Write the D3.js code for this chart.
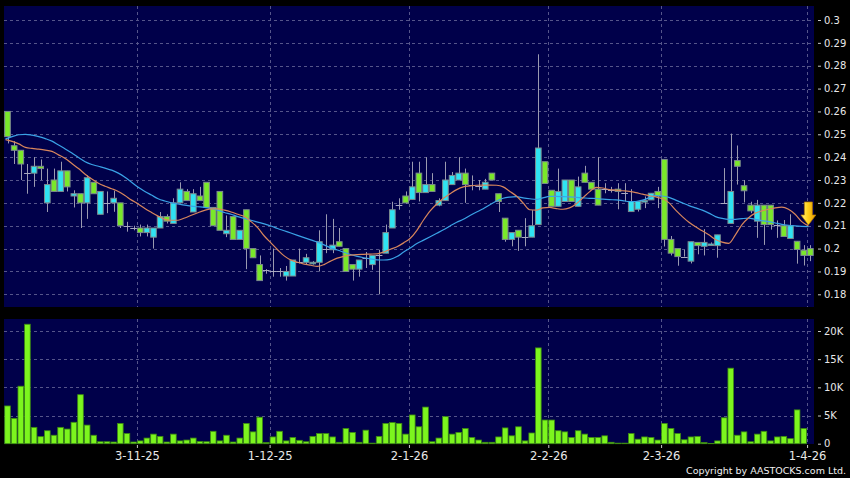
<!DOCTYPE html>
<html><head><meta charset="utf-8">
<script src="https://cdn.jsdelivr.net/npm/d3@7"></script>
<style>html,body{margin:0;padding:0;background:#000;}svg{display:block}</style>
</head><body>
<svg id="chart" width="850" height="478"></svg>
<script>
// ---- data (122 trading days) ----
const opens = [0.260,0.245,0.243,0.233,0.233,0.236,0.220,0.230,0.225,0.234,0.223,0.224,0.220,0.229,0.215,0.220,0.220,0.220,0.210,0.209,
0.209,0.207,0.205,0.209,0.214,0.211,0.220,0.225,0.216,0.223,0.229,0.218,0.225,0.2065,0.214,0.204,0.217,0.200,0.193,0.1905,
0.190,0.190,0.188,0.188,0.194,0.194,0.1935,0.194,0.200,0.1995,0.203,0.200,0.193,0.191,0.196,0.193,0.197,0.198,0.209,0.219,
0.223,0.2215,0.233,0.2245,0.228,0.219,0.221,0.228,0.230,0.233,0.228,0.2275,0.226,0.233,0.224,0.2133,0.204,0.208,0.205,0.205,
0.2105,0.238,0.2255,0.2185,0.2206,0.230,0.2185,0.233,0.229,0.226,0.226,0.2257,0.226,0.2245,0.2162,0.2172,0.2206,0.2213,0.225,0.239,
0.204,0.200,0.1965,0.1945,0.2027,0.201,0.2015,0.2013,0.220,0.211,0.2385,0.2275,0.219,0.212,0.219,0.219,0.2105,0.210,0.2044,0.2032,
0.1993,0.200];
const highs = [0.260,0.247,0.243,0.237,0.240,0.239,0.235,0.235,0.238,0.234,0.2255,0.224,0.232,0.229,0.225,0.225,0.2253,0.220,0.2117,0.210,
0.2105,0.2105,0.209,0.216,0.215,0.222,0.229,0.226,0.226,0.227,0.229,0.218,0.225,0.2145,0.214,0.208,0.217,0.200,0.197,0.191,
0.200,0.1915,0.1924,0.195,0.200,0.1977,0.1945,0.208,0.215,0.213,0.209,0.200,0.193,0.195,0.1985,0.197,0.1995,0.2105,0.2205,0.222,
0.225,0.238,0.238,0.240,0.233,0.222,0.238,0.2335,0.240,0.235,0.232,0.230,0.2305,0.233,0.224,0.2133,0.207,0.208,0.2133,0.2168,
0.285,0.238,0.2255,0.235,0.230,0.230,0.2315,0.2362,0.229,0.240,0.2286,0.227,0.2286,0.2286,0.226,0.2206,0.2228,0.2242,0.227,0.239,
0.2055,0.200,0.1995,0.203,0.2027,0.2085,0.2027,0.206,0.2352,0.2503,0.2451,0.230,0.2205,0.2213,0.219,0.219,0.2123,0.2125,0.215,0.2032,
0.2015,0.2015];
const lows = [0.246,0.237,0.230,0.224,0.227,0.230,0.216,0.225,0.225,0.225,0.218,0.209,0.213,0.224,0.215,0.2155,0.2161,0.209,0.2074,0.208,
0.2053,0.2053,0.200,0.209,0.211,0.211,0.220,0.221,0.216,0.221,0.218,0.210,0.208,0.205,0.204,0.204,0.191,0.196,0.186,0.189,
0.1877,0.1877,0.186,0.188,0.1935,0.193,0.193,0.190,0.198,0.198,0.201,0.190,0.186,0.1877,0.1915,0.1907,0.180,0.198,0.209,0.217,
0.2197,0.2213,0.2206,0.2245,0.225,0.2185,0.221,0.228,0.230,0.220,0.2255,0.2255,0.226,0.230,0.216,0.203,0.201,0.199,0.201,0.205,
0.2105,0.2285,0.2185,0.2185,0.2206,0.2206,0.2185,0.229,0.226,0.219,0.2242,0.2245,0.2172,0.2206,0.2162,0.2162,0.2177,0.2213,0.2177,0.2009,
0.197,0.1925,0.1965,0.1935,0.1975,0.197,0.2013,0.196,0.2198,0.211,0.228,0.2202,0.2155,0.2047,0.2016,0.2083,0.2047,0.2053,0.2044,0.1934,
0.1926,0.1945];
const closes = [0.249,0.243,0.237,0.233,0.236,0.235,0.228,0.225,0.234,0.227,0.224,0.220,0.231,0.224,0.225,0.220,0.222,0.210,0.210,0.209,
0.207,0.209,0.209,0.214,0.212,0.220,0.226,0.221,0.224,0.221,0.218,0.210,0.208,0.208,0.204,0.208,0.200,0.196,0.186,0.1905,
0.190,0.190,0.190,0.195,0.194,0.196,0.194,0.203,0.200,0.2015,0.201,0.190,0.191,0.195,0.196,0.197,0.197,0.207,0.217,0.219,
0.220,0.227,0.2245,0.228,0.225,0.221,0.230,0.232,0.233,0.228,0.228,0.2275,0.229,0.230,0.2206,0.204,0.207,0.205,0.205,0.210,
0.244,0.2285,0.2185,0.225,0.230,0.2206,0.227,0.229,0.226,0.219,0.226,0.2257,0.225,0.2245,0.2206,0.2206,0.221,0.2242,0.223,0.204,
0.198,0.1965,0.1965,0.203,0.2013,0.2027,0.202,0.206,0.220,0.225,0.236,0.2253,0.2165,0.219,0.2105,0.2105,0.2105,0.2053,0.210,0.1996,
0.197,0.197];
const volumes = [6700,4500,10200,21200,2900,1250,2300,1500,2900,2600,3800,8700,3300,1500,350,350,300,3600,1800,300,
500,1000,1700,1300,300,1700,500,650,1000,400,350,2200,500,1500,300,1000,3600,2100,4700,200,
1200,2200,500,1100,600,350,1300,1800,1800,1200,250,2700,2000,250,2400,100,1300,3600,3750,3600,
1700,5100,3000,6500,350,1000,4800,1700,2000,2700,1100,650,250,250,1200,2800,1400,3000,500,1900,
17000,4200,4200,2300,2100,1100,2300,1700,1100,1100,1400,250,100,100,1800,800,1200,1100,650,3600,
2700,1800,700,1200,1300,200,50,500,4600,13400,1500,2100,350,1700,2200,500,1200,1300,900,6000,
2700,null];
const maShort = [0.2477,0.2469,0.2458,0.2443,0.2438,0.2435,0.2431,0.2425,0.2410,0.2394,0.2372,0.2350,0.2325,0.2304,0.2286,0.2273,0.2262,0.2250,0.2232,0.2212,
0.2195,0.2175,0.2158,0.2142,0.2128,0.2124,0.2124,0.2134,0.2146,0.2157,0.2167,0.2174,0.2174,0.2168,0.2160,0.2150,0.2140,0.2118,0.2092,0.2055,
0.2025,0.1995,0.1968,0.1950,0.1940,0.1932,0.1927,0.1922,0.1930,0.1945,0.1958,0.1966,0.1971,0.1974,0.1975,0.1976,0.1977,0.1985,0.1997,0.2008,
0.2025,0.2045,0.2080,0.2125,0.2165,0.2195,0.2220,0.2240,0.2258,0.2270,0.2274,0.2277,0.2278,0.2278,0.2277,0.2270,0.2250,0.2230,0.2200,0.2170,
0.2168,0.2178,0.2180,0.2175,0.2172,0.2178,0.2195,0.2222,0.2248,0.2268,0.2265,0.2258,0.2256,0.2253,0.2250,0.2245,0.2238,0.2232,0.2226,0.2218,
0.2200,0.2168,0.2140,0.2115,0.2095,0.2078,0.2060,0.2040,0.2028,0.2023,0.2060,0.2105,0.2135,0.2155,0.2165,0.2172,0.2178,0.2181,0.2172,0.2150,
0.2118,0.2099];
const maLong = [0.2480,0.2490,0.2498,0.2500,0.2496,0.2490,0.2481,0.2470,0.2453,0.2436,0.2418,0.2398,0.2380,0.2368,0.2360,0.2352,0.2343,0.2330,0.2312,0.2290,
0.2268,0.2250,0.2234,0.2218,0.2208,0.2200,0.2195,0.2190,0.2186,0.2183,0.2180,0.2176,0.2168,0.2158,0.2150,0.2140,0.2132,0.2124,0.2116,0.2108,
0.2099,0.2088,0.2078,0.2068,0.2058,0.2048,0.2038,0.2028,0.2016,0.2003,0.1994,0.1984,0.1974,0.1966,0.1960,0.1955,0.1951,0.1950,0.1953,0.1965,
0.1985,0.2003,0.2022,0.2037,0.2052,0.2067,0.2082,0.2099,0.2115,0.2128,0.2145,0.2160,0.2174,0.2192,0.2208,0.2220,0.2225,0.2227,0.2222,0.2218,
0.2215,0.2222,0.2228,0.2228,0.2227,0.2226,0.2224,0.2222,0.2220,0.2219,0.2216,0.2214,0.2213,0.2210,0.2206,0.2206,0.2212,0.2222,0.2232,0.2230,
0.2224,0.2212,0.2200,0.2188,0.2178,0.2168,0.2155,0.2140,0.2132,0.2128,0.2128,0.2131,0.2133,0.2128,0.2122,0.2118,0.2112,0.2106,0.2102,0.2099,
0.2097,0.2096];
const tickLabels = ["3-11-25","1-12-25","2-1-26","2-2-26","2-3-26","1-4-26"];
const tickIndex = [20,40,61,82,99,121];
const priceTicks = [0.18,0.19,0.20,0.21,0.22,0.23,0.24,0.25,0.26,0.27,0.28,0.29,0.30];
const volTicks = [0,5000,10000,15000,20000];

// ---- drawing ----
const svg = d3.select("#chart");
const n = closes.length;
const FONT = "'DejaVu Sans', Verdana, sans-serif";
const BG = "#00004a", GRID = "#55558a";

svg.append("rect").attr("width",850).attr("height",478).attr("fill","#000");

const x = d3.scaleBand().domain(d3.range(n)).range([4.2, 813.7]).paddingInner(0.15).paddingOuter(0.075);
const bw = x.bandwidth();
const cx = i => x(i) + bw/2;
const slot = d3.scaleLinear().domain([0, n]).range([4.2, 813.7]);
const y = d3.scaleLinear().domain([0.18, 0.30]).range([294.3, 20]);
const yv = d3.scaleLinear().domain([0, 20000]).range([443.7, 331]);

const P = {x0:4, x1:814, y0:6, y1:307};
const V = {x0:4, x1:814, y0:319, y1:444};

[P, V].forEach(p => svg.append("rect").attr("x",p.x0).attr("y",p.y0)
  .attr("width",p.x1-p.x0).attr("height",p.y1-p.y0).attr("fill",BG));

const grid = svg.append("g").attr("stroke",GRID).attr("stroke-width",1).attr("stroke-dasharray","3,3");
priceTicks.forEach(v => grid.append("line").attr("x1",P.x0).attr("x2",P.x1)
  .attr("y1",Math.round(y(v))+0.5).attr("y2",Math.round(y(v))+0.5));
volTicks.filter(v=>v>0).forEach(v => grid.append("line").attr("x1",V.x0).attr("x2",V.x1)
  .attr("y1",Math.round(yv(v))+0.5).attr("y2",Math.round(yv(v))+0.5));
tickIndex.forEach(t => {
  const gx = Math.round(slot(t))+0.5;
  grid.append("line").attr("x1",gx).attr("x2",gx).attr("y1",P.y0).attr("y2",P.y1);
  grid.append("line").attr("x1",gx).attr("x2",gx).attr("y1",V.y0).attr("y2",V.y1);
});

// volume bars
svg.append("g").selectAll("rect").data(volumes.map((v,i)=>({v,i})).filter(d=>d.v!=null))
  .join("rect")
  .attr("x", d => x(d.i)).attr("width", bw)
  .attr("y", d => yv(d.v)).attr("height", d => Math.max(0, yv(0)-yv(d.v)))
  .attr("fill","#7cf51e").attr("stroke","#3c8a12").attr("stroke-width",0.8);

// candles
const data = d3.range(n).map(i => ({i, o:opens[i], h:highs[i], l:lows[i], c:closes[i]}));
const cg = svg.append("g");
cg.selectAll("line.wick").data(data).join("line").attr("class","wick")
  .attr("x1", d => Math.round(cx(d.i))+0.5).attr("x2", d => Math.round(cx(d.i))+0.5)
  .attr("y1", d => y(d.h)).attr("y2", d => y(d.l))
  .attr("stroke","#9a9ab0").attr("stroke-width",1);
cg.selectAll("rect.body").data(data.filter(d => d.o !== d.c)).join("rect").attr("class","body")
  .attr("x", d => x(d.i)).attr("width", bw)
  .attr("y", d => y(Math.max(d.o,d.c)))
  .attr("height", d => Math.max(1.5, Math.abs(y(d.o)-y(d.c))))
  .attr("fill", d => d.c > d.o ? "#2fe3f2" : "#7ae82a")
  .attr("stroke","#7c8a8e").attr("stroke-width",1);
cg.selectAll("line.doji").data(data.filter(d => d.o === d.c)).join("line").attr("class","doji")
  .attr("x1", d => x(d.i)-0.5).attr("x2", d => x(d.i)+bw+0.5)
  .attr("y1", d => Math.round(y(d.c))+0.5).attr("y2", d => Math.round(y(d.c))+0.5)
  .attr("stroke","#a8a8c0").attr("stroke-width",1);

// moving averages
const mx = i => cx(i) - 2;
const lineGen = arr => d3.line().x((d,i)=>mx(i)).y(d=>y(d)).curve(d3.curveMonotoneX)(arr);
svg.append("path").attr("d", lineGen(maLong)).attr("fill","none").attr("stroke","#3aa2e6").attr("stroke-width",1.2);
svg.append("path").attr("d", lineGen(maShort)).attr("fill","none").attr("stroke","#d8865c").attr("stroke-width",1.2);

// arrow at last MA point
const tx = mx(n-1), ty = y(maShort[n-1]) - 1;
const defs = svg.append("defs");
const gr = defs.append("linearGradient").attr("id","arrowGrad").attr("x1",0).attr("x2",1).attr("y1",0).attr("y2",0);
gr.append("stop").attr("offset","0%").attr("stop-color","#fff28a");
gr.append("stop").attr("offset","45%").attr("stop-color","#ffd21c");
gr.append("stop").attr("offset","100%").attr("stop-color","#e89a00");
svg.append("path")
  .attr("d", `M${tx-4},${ty-23} L${tx+4},${ty-23} L${tx+4},${ty-10} L${tx+7.5},${ty-10} L${tx},${ty} L${tx-7.5},${ty-10} L${tx-4},${ty-10} Z`)
  .attr("fill","url(#arrowGrad)").attr("stroke","#b07800").attr("stroke-width",0.7);

// axes
function styleAxis(g, size){
  g.select(".domain").remove();
  g.selectAll(".tick line").attr("stroke","#c8c8c8");
  g.selectAll(".tick text").attr("fill","#e8e8e8").style("font-family",FONT).style("font-size",size);
}
svg.append("g").attr("transform","translate(818,0)")
  .call(d3.axisRight(y).tickValues(priceTicks).tickSize(3).tickPadding(3).tickFormat(d => String(+d.toFixed(2))))
  .call(g => styleAxis(g,"10px"));
svg.append("g").attr("transform","translate(818,0)")
  .call(d3.axisRight(yv).tickValues(volTicks).tickSize(3).tickPadding(3).tickFormat(d => d===0 ? "0" : (d/1000)+"K"))
  .call(g => styleAxis(g,"10px"));
svg.append("g").attr("transform","translate(0,445)")
  .call(d3.axisBottom(slot).tickValues(tickIndex).tickSize(3).tickPadding(4).tickFormat((d,k) => tickLabels[k]))
  .call(g => styleAxis(g,"11.5px"));

svg.append("text").attr("x",846).attr("y",474).attr("text-anchor","end")
  .attr("fill","#f0f0f0").style("font-family",FONT).style("font-size","9.5px")
  .text("Copyright by AASTOCKS.com Ltd.");
</script>
</body></html>
